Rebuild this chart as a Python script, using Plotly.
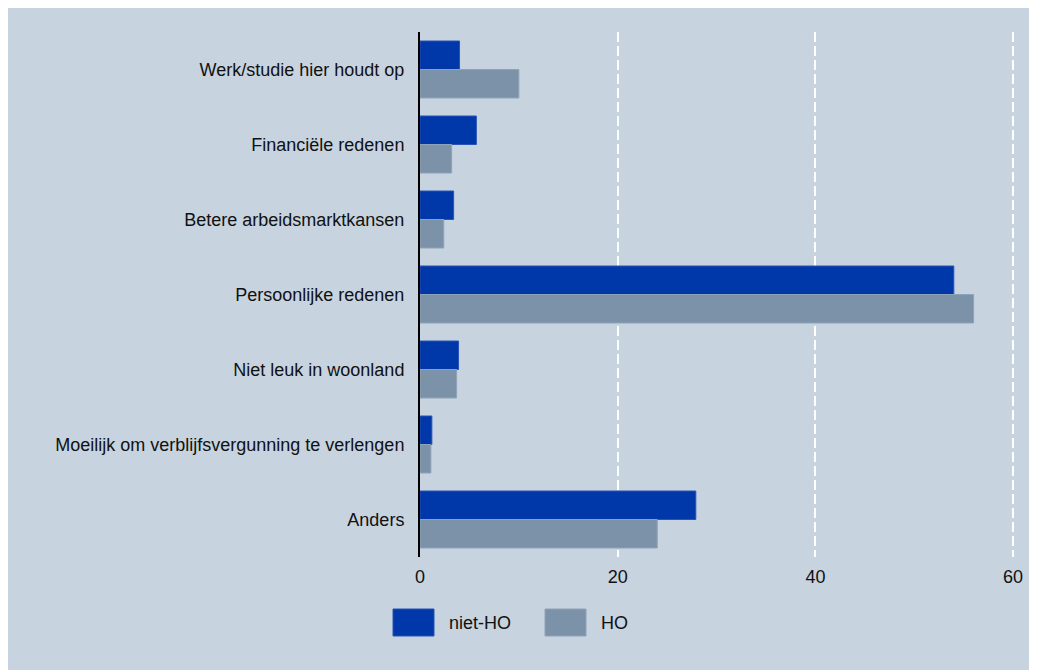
import plotly.graph_objects as go

categories = [
    "Werk/studie hier houdt op",
    "Financiële redenen",
    "Betere arbeidsmarktkansen",
    "Persoonlijke redenen",
    "Niet leuk in woonland",
    "Moeilijk om verblijfsvergunning te verlengen",
    "Anders",
]
series_names = ["niet-HO", "HO"]
niet_ho = [4.0, 5.7, 3.4, 54.0, 3.9, 1.2, 27.9]
ho = [10.0, 3.2, 2.4, 56.0, 3.7, 1.1, 24.0]
x_ticks = [0, 20, 40, 60]

C_NIET = "#0037A9"
C_HO = "#7B92A9"
BG = "#C7D3DF"
FONT = "Liberation Sans, Arial, sans-serif"

W, H = 1037, 670
ML, MR, MT, MB = 412, 22, 24, 121
PW = W - ML - MR
PH = H - MT - MB


def px_x(p):
    return (p - ML) / PW


def px_y(p):
    return (H - MB - p) / PH


fig = go.Figure()
fig.add_trace(go.Bar(y=categories, x=niet_ho, name=series_names[0], orientation="h",
                     marker=dict(color=C_NIET, line=dict(color="#2A52B8", width=1))))
fig.add_trace(go.Bar(y=categories, x=ho, name=series_names[1], orientation="h",
                     marker=dict(color=C_HO, line=dict(color="#8FA3B8", width=1))))

shapes = []
annotations = []
legend_items = [
    (series_names[0], C_NIET, "#2A52B8", 385, 426, 439),
    (series_names[1], C_HO, "#8FA3B8", 537, 578, 591),
]
for name, col, lc, s0, s1, tx in legend_items:
    shapes.append(dict(type="rect", xref="paper", yref="paper",
                       x0=px_x(s0), x1=px_x(s1), y0=px_y(628), y1=px_y(601),
                       fillcolor=col, line=dict(color=lc, width=1)))
    annotations.append(dict(xref="paper", yref="paper", x=px_x(tx), y=px_y(615),
                            xanchor="left", yanchor="middle", text=name, showarrow=False,
                            font=dict(family=FONT, size=18, color="#111111")))

fig.update_layout(
    width=W, height=H,
    margin=dict(l=ML, r=MR, t=MT, b=MB),
    paper_bgcolor=BG,
    plot_bgcolor=BG,
    barmode="group",
    bargap=0.24,
    bargroupgap=0,
    showlegend=False,
    font=dict(family=FONT, size=18, color="#111111"),
    shapes=shapes,
    annotations=annotations,
    xaxis=dict(range=[0, 61], tickvals=x_ticks, showgrid=True, gridcolor="white",
               gridwidth=2, griddash="10px,4px", zeroline=False, showline=False,
               ticks="", ticklabelstandoff=7,
               tickfont=dict(family=FONT, size=18, color="#111111")),
    yaxis=dict(autorange="reversed", showline=True, linecolor="black", linewidth=2,
               showgrid=False, zeroline=False, ticks="", ticklabelstandoff=10,
               tickfont=dict(family=FONT, size=18, color="#111111")),
)

fig.write_html("out.html")
